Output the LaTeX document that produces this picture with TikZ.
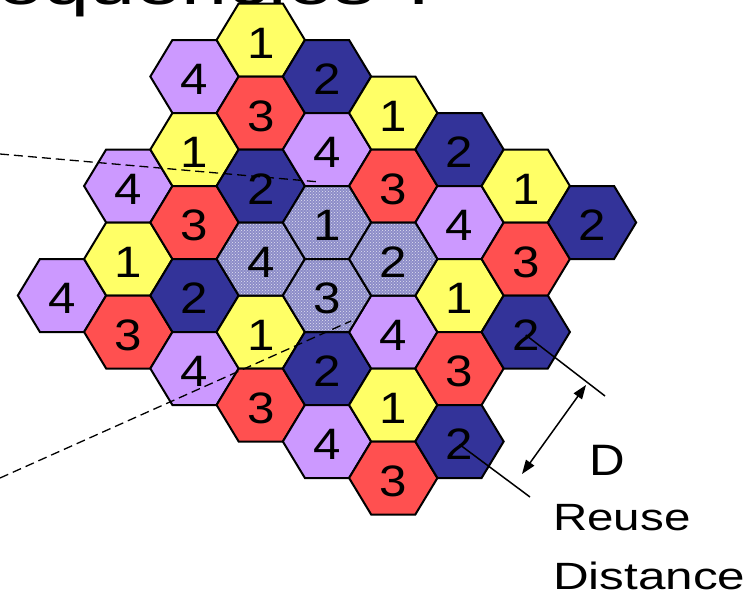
\documentclass[tikz,border=0pt]{standalone}
\usepackage{fontspec}
\setmainfont{Liberation Sans}
\usetikzlibrary{arrows.meta,patterns}
\definecolor{cell1}{RGB}{255,255,102}
\definecolor{cell2}{RGB}{51,51,153}
\definecolor{cell3}{RGB}{255,80,80}
\definecolor{cell4}{RGB}{204,153,255}
\definecolor{cellshade}{RGB}{140,140,200}
\newcommand{\widetext}[2]{\scalebox{#1}[1]{#2}}

\begin{document}
\begin{tikzpicture}[x=1pt, y=-1pt, >={Triangle[length=14pt,width=10pt]},
  cell/.style={draw=black, line width=2pt},
  reused/.style={cell, preaction={fill=cellshade}, pattern=crosshatch dots, pattern color=white!75!cellshade},
  digit/.style={inner sep=0pt, yshift=-3pt, font=\fontsize{44}{44}\selectfont},
  caption/.style={inner sep=0pt, font=\fontsize{38}{38}\selectfont},
  cluster/.style={line width=1.3pt, dash pattern=on 9pt off 5pt},
  measure/.style={line width=1.5pt}]

\useasboundingbox (0,0) rectangle (755,595);
\clip (0,0) rectangle (755,595);

% title, mostly cut off at the top
\node[anchor=base west, inner sep=0pt, font=\fontsize{60}{60}\selectfont] (title) at (-3,4) {\widetext{1.38}{equencies ?}};

% flat-top cells, colour follows the channel number
\foreach \k/\m/\n in {0/7/4, 1/4/4, 1/6/1, 1/8/3,
    2/1/4, 2/3/1, 2/5/3, 2/7/2, 2/9/4,
    3/0/1, 3/2/3, 3/4/2, 3/8/1, 3/10/3,
    4/1/2, 4/3/4, 4/9/2, 4/11/4,
    5/2/1, 5/4/3, 5/8/4, 5/10/1, 5/12/3,
    6/3/2, 6/5/4, 6/7/1, 6/9/3, 6/11/2,
    7/4/1, 7/6/3, 7/8/2, 8/5/2}{
  \pgfmathsetmacro{\cx}{62+66.25*\k}
  \pgfmathsetmacro{\cy}{40+36.5*\m}
  \draw[cell, fill=cell\n] (\cx,\cy) ++(-44.17,0) -- ++(22.08,-36.5) -- ++(44.17,0)
    -- ++(22.08,36.5) -- ++(-22.08,36.5) -- ++(-44.17,0) -- cycle;
  \node[digit] (c\k-\m) at (\cx,\cy) {\widetext{1.12}{\n}};
}

% the reference cluster
\foreach \k/\m/\n in {3/6/4, 4/5/1, 4/7/3, 5/6/2}{
  \pgfmathsetmacro{\cx}{62+66.25*\k}
  \pgfmathsetmacro{\cy}{40+36.5*\m}
  \draw[reused] (\cx,\cy) ++(-44.17,0) -- ++(22.08,-36.5) -- ++(44.17,0)
    -- ++(22.08,36.5) -- ++(-22.08,36.5) -- ++(-44.17,0) -- cycle;
  \node[digit] (c\k-\m) at (\cx,\cy) {\widetext{1.12}{\n}};
}

\coordinate (zoomA) at (0,154);
\coordinate (zoomAend) at (320,182);
\coordinate (zoomB) at (0,478);
\coordinate (zoomBend) at (351,321);
\draw[cluster] (zoomA) -- (zoomAend);
\draw[cluster] (zoomB) -- (zoomBend);

% reuse distance
\coordinate (extA) at (605,396);
\coordinate (extB) at (530,497);
\coordinate (arrA) at (586,385);
\coordinate (arrB) at (522,474);
\draw[measure] (c7-8.center) -- (extA);
\draw[measure] (c6-11.center) -- (extB);
\draw[measure, <->] (arrB) -- (arrA);

\node[anchor=base, inner sep=0pt, font=\fontsize{44}{44}\selectfont] (dlabel) at (607,475) {\widetext{1.12}{D}};
\node[caption, anchor=base west] (reuse) at (553,530) {\widetext{1.25}{Reuse}};
\node[caption, anchor=base west] (distance) at (553,589) {\widetext{1.3}{Distance}};

\end{tikzpicture}
\end{document}
